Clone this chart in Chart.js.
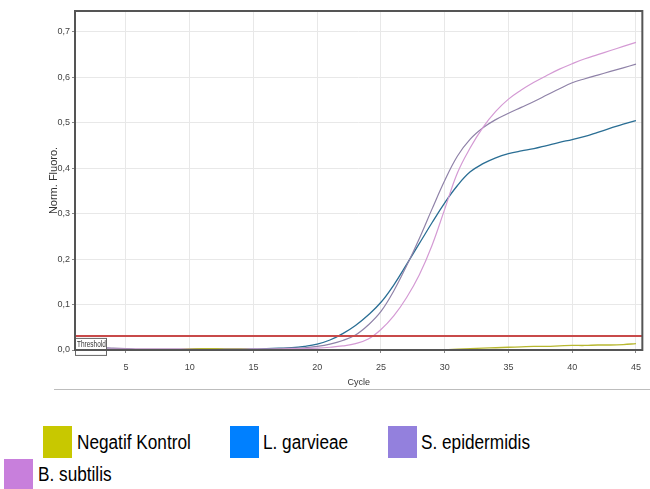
<!DOCTYPE html>
<html>
<head>
<meta charset="utf-8">
<script src="https://cdn.jsdelivr.net/npm/chart.js@4.4.1/dist/chart.umd.min.js"></script>
<style>
  html, body { margin: 0; padding: 0; background: #fff; }
  body { width: 650px; height: 489px; overflow: hidden; position: relative; font-family: "Liberation Sans", Arial, sans-serif; }
  #wrap { position: absolute; left: 0; top: 0; width: 650px; height: 400px; }
  .sep { position: absolute; left: 54px; top: 389px; width: 596px; height: 1px; background: #bdbdbd; }
  .sw { position: absolute; width: 29px; height: 32px; }
  .lbl { position: absolute; font-size: 20px; color: #000; white-space: nowrap; line-height: 24px; transform: scaleX(0.86); transform-origin: 0 0; }
</style>
</head>
<body>
<div id="wrap"><canvas id="pcr" width="650" height="400"></canvas></div>
<div class="sep"></div>
<div id="legend"></div>
<script>
// cycles and fluorescence readings
const cycles = [1, 2, 3, 4, 5, 6, 7, 8, 9, 10, 11, 12, 13, 14, 15, 16, 17, 18, 19, 20, 21, 22, 23, 24, 25,
  26, 27, 28, 29, 30, 31, 32, 33, 34, 35, 36, 37, 38, 39, 40, 41, 42, 43, 44, 45];

const negatifKontrol = [0.001, 0.001, 0.001, 0.001, 0.001, 0.001, 0.001, 0.001, 0.001, 0.002, 0.003, 0.003, 0.002, 0.002, 0.001,
  0.001, 0.001, 0.001, 0.001, 0.001, 0.001, 0.001, 0.001, 0.001, 0.001, 0.001, 0.001, 0.001, 0.001, 0.001,
  0.002, 0.003, 0.004, 0.005, 0.006, 0.007, 0.008, 0.008, 0.009, 0.010, 0.010, 0.011, 0.011, 0.012, 0.014];

const lGarvieae = [0.002, 0.002, 0.002, 0.002, 0.002, 0.001, 0.001, 0.001, 0.001, 0.001, 0.002, 0.002, 0.002, 0.002, 0.002,
  0.003, 0.004, 0.005, 0.008, 0.013, 0.022, 0.036, 0.054, 0.077, 0.105, 0.143, 0.188, 0.234, 0.280, 0.324,
  0.362, 0.392, 0.410, 0.423, 0.432, 0.438, 0.443, 0.450, 0.457, 0.463, 0.470, 0.479, 0.488, 0.497, 0.505];

const sEpidermidis = [0.003, 0.004, 0.005, 0.004, 0.003, 0.002, 0.002, 0.002, 0.002, 0.002, 0.002, 0.002, 0.002, 0.002, 0.002,
  0.002, 0.003, 0.004, 0.005, 0.008, 0.013, 0.021, 0.033, 0.055, 0.085, 0.130, 0.185, 0.245, 0.310, 0.373,
  0.427, 0.464, 0.489, 0.507, 0.521, 0.534, 0.547, 0.561, 0.575, 0.588, 0.597, 0.605, 0.613, 0.621, 0.629];

const bSubtilis = [0.002, 0.002, 0.002, 0.002, 0.002, 0.002, 0.002, 0.002, 0.002, 0.002, 0.002, 0.002, 0.002, 0.002, 0.002,
  0.002, 0.002, 0.003, 0.003, 0.004, 0.006, 0.009, 0.014, 0.024, 0.045, 0.075, 0.115, 0.165, 0.230, 0.310,
  0.390, 0.445, 0.490, 0.525, 0.552, 0.572, 0.589, 0.604, 0.618, 0.630, 0.641, 0.650, 0.659, 0.668, 0.677];

const threshold = 0.031;

const xTicks = [5, 10, 15, 20, 25, 30, 35, 40, 45];
const yTicks = [0, 0.1, 0.2, 0.3, 0.4, 0.5, 0.6, 0.7];

const legendItems = [
  { label: "Negatif Kontrol", color: "#c8c800" },
  { label: "L. garvieae", color: "#0080ff" },
  { label: "S. epidermidis", color: "#9380dd" },
  { label: "B. subtilis", color: "#c87fdc" },
];

const toPoints = (vals) => vals.map((v, i) => ({ x: cycles[i], y: v }));

const tickFont = { family: "'Liberation Sans', Arial, sans-serif", size: 9 };

// frame around plot + the little "Threshold" tag
const framePlugin = {
  id: "frame",
  afterDatasetsDraw(chart) {
    const { ctx, chartArea: a, scales } = chart;
    ctx.save();
    const ty = scales.y.getPixelForValue(threshold);
    ctx.fillStyle = "#fff";
    ctx.fillRect(a.left + 1, ty + 2, 30, 17);
    ctx.strokeStyle = "#666";
    ctx.lineWidth = 1;
    ctx.strokeRect(a.left + 0.5, ty + 2.5, 31, 17);
    ctx.fillStyle = "#333";
    ctx.font = "9px 'Liberation Sans', Arial, sans-serif";
    ctx.textBaseline = "middle";
    ctx.save();
    ctx.translate(a.left + 2, ty + 9);
    ctx.scale(0.72, 1);
    ctx.fillText("Threshold", 0, 0);
    ctx.restore();
    ctx.strokeStyle = "#555";
    ctx.lineWidth = 2;
    ctx.strokeRect(a.left, a.top, a.right - a.left, a.bottom - a.top);
    ctx.restore();
  },
};

const line = (label, vals, color, width) => ({
  label,
  data: toPoints(vals),
  borderColor: color,
  borderWidth: width,
  pointRadius: 0,
  tension: 0.4,
  fill: false,
});

new Chart(document.getElementById("pcr"), {
  type: "line",
  data: {
    datasets: [
      {
        label: "Threshold",
        data: [{ x: cycles[0], y: threshold }, { x: 45.5, y: threshold }],
        borderColor: "#c84a4a",
        borderWidth: 2,
        pointRadius: 0,
      },
      line("Negatif Kontrol", negatifKontrol, "#b8b830", 1.3),
      line("B. subtilis", bSubtilis, "#d49ad4", 1.2),
      line("S. epidermidis", sEpidermidis, "#8f82a8", 1.2),
      line("L. garvieae", lGarvieae, "#2a6e94", 1.3),
    ],
  },
  options: {
    responsive: false,
    animation: false,
    devicePixelRatio: 1,
    layout: { padding: { top: 11, right: 2, left: 0, bottom: 0 } },
    plugins: { legend: { display: false }, tooltip: { enabled: false } },
    scales: {
      x: {
        type: "linear",
        min: 1,
        max: 45.5,
        afterBuildTicks: (s) => { s.ticks = xTicks.map((v) => ({ value: v })); },
        afterFit: (s) => { s.height = 50; },
        grid: { color: "#e8e8e8", tickColor: "#888", tickLength: 3 },
        border: { display: false },
        ticks: { font: tickFont, color: "#444", padding: 9, maxRotation: 0 },
        title: { display: true, text: "Cycle", font: tickFont, color: "#333", padding: { top: 0, bottom: 12 } },
      },
      y: {
        min: 0,
        max: 0.746,
        afterBuildTicks: (s) => { s.ticks = yTicks.map((v) => ({ value: v })); },
        afterFit: (s) => { s.width = 75; },
        grid: { color: "#e8e8e8", tickColor: "#888", tickLength: 3 },
        border: { display: false },
        ticks: { font: tickFont, color: "#444", padding: 2, callback: (v) => v.toFixed(1).replace(".", ",") },
        title: {
          display: true,
          text: "Norm. Fluoro.",
          font: { family: "'Liberation Sans', Arial, sans-serif", size: 11 },
          color: "#333",
          padding: { top: 47, bottom: 0 },
        },
      },
    },
  },
  plugins: [framePlugin],
});

// legend below the chart
const legendPos = [
  { sx: 43, sy: 426, tx: 77, ty: 430 },
  { sx: 230, sy: 426, tx: 263, ty: 430 },
  { sx: 388, sy: 426, tx: 421, ty: 430 },
  { sx: 4, sy: 459, tx: 38, ty: 462 },
];
const legendEl = document.getElementById("legend");
legendItems.forEach((item, i) => {
  const p = legendPos[i];
  const sw = document.createElement("div");
  sw.className = "sw";
  sw.style.left = p.sx + "px";
  sw.style.top = p.sy + "px";
  sw.style.background = item.color;
  const t = document.createElement("div");
  t.className = "lbl";
  t.style.left = p.tx + "px";
  t.style.top = p.ty + "px";
  t.textContent = item.label;
  legendEl.appendChild(sw);
  legendEl.appendChild(t);
});
</script>
</body>
</html>
